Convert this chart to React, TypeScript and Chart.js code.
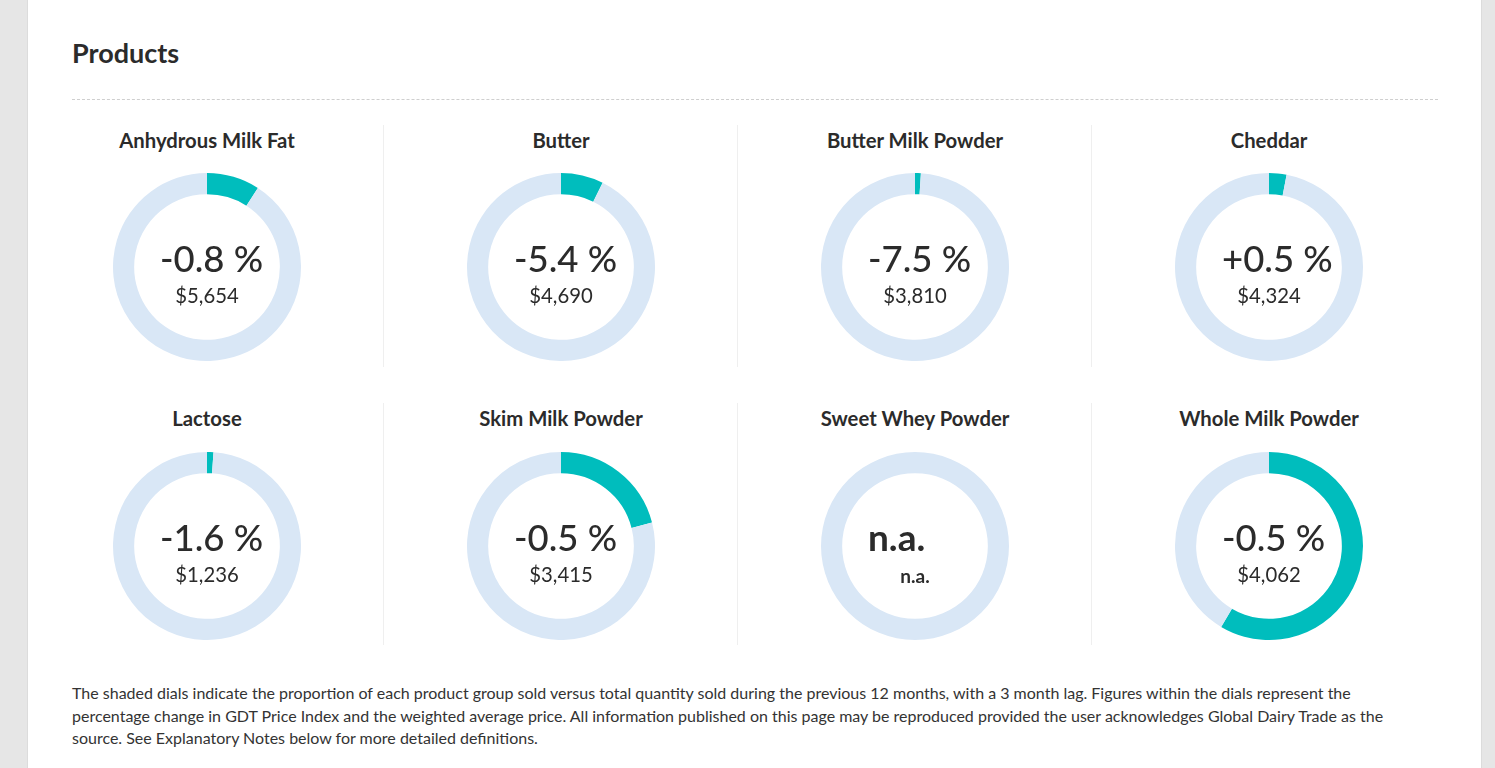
import React, { useEffect, useRef } from 'react';
import { Chart, registerables } from 'chart.js';

Chart.register(...registerables);

const products = [
  'Anhydrous Milk Fat',
  'Butter',
  'Butter Milk Powder',
  'Cheddar',
  'Lactose',
  'Skim Milk Powder',
  'Sweet Whey Powder',
  'Whole Milk Powder',
];
// share (%) of total quantity sold, read from the dials
const shares = [9.1, 7.3, 1.0, 3.0, 1.1, 21.0, 0, 58.5];
const changes = ['-0.8 %', '-5.4 %', '-7.5 %', '+0.5 %', '-1.6 %', '-0.5 %', 'n.a.', '-0.5 %'];
const prices = ['$5,654', '$4,690', '$3,810', '$4,324', '$1,236', '$3,415', 'n.a.', '$4,062'];

const TEAL = '#00bdbd';
const LIGHT = '#d9e7f6';
const TEXT = '#2b2b2b';
const FONT = 'Lato, "Open Sans", sans-serif';

const DIAL = 188;
const COL_W = 354;
const COL_X0 = 30;
const ROW_TOPS = [125, 403];

function Dial({ share, left, top }: { share: number; left: number; top: number }) {
  const ref = useRef<HTMLCanvasElement | null>(null);
  useEffect(() => {
    if (!ref.current) return;
    const chart = new Chart(ref.current, {
      type: 'doughnut',
      data: {
        labels: ['Share', 'Rest'],
        datasets: [
          {
            data: [share, 100 - share],
            backgroundColor: [TEAL, LIGHT],
            borderWidth: 0,
          },
        ],
      },
      options: {
        responsive: false,
        animation: false,
        cutout: '77.5%',
        events: [],
        layout: { padding: 0 },
        plugins: { legend: { display: false }, tooltip: { enabled: false } },
      },
    });
    return () => chart.destroy();
  }, [share]);
  return (
    <canvas
      ref={ref}
      width={DIAL}
      height={DIAL}
      style={{ position: 'absolute', left, top, width: DIAL, height: DIAL }}
    />
  );
}

function Cell({ i }: { i: number }) {
  const col = i % 4;
  const row = Math.floor(i / 4);
  const left = COL_X0 + col * COL_W;
  const top = ROW_TOPS[row];
  const cx = COL_W / 2;
  const dialTop = row === 0 ? 48 : 49;
  const cy = dialTop + DIAL / 2;
  const na = changes[i] === 'n.a.';
  return (
    <div
      style={{
        position: 'absolute',
        left,
        top,
        width: COL_W,
        height: 242,
        borderRight: col < 3 ? '1px solid #efefef' : 'none',
        boxSizing: 'border-box',
      }}
    >
      <div
        style={{
          position: 'absolute',
          left: 0,
          width: COL_W,
          top: 5,
          textAlign: 'center',
          fontSize: 20.3,
          lineHeight: '20px',
          fontWeight: 700,
          color: TEXT,
          whiteSpace: 'nowrap',
        }}
      >
        {products[i]}
      </div>
      <Dial share={shares[i]} left={cx - DIAL / 2} top={dialTop} />
      <div
        style={{
          position: 'absolute',
          left: cx - 47,
          top: na ? cy - 28 : cy - 27,
          fontSize: na ? 37 : 36.5,
          lineHeight: na ? '37px' : '36px',
          fontWeight: na ? 700 : 500,
          color: TEXT,
          whiteSpace: 'nowrap',
        }}
      >
        {changes[i]}
      </div>
      <div
        style={{
          position: 'absolute',
          left: 0,
          width: COL_W,
          top: na ? cy + 20 : cy + 18,
          textAlign: 'center',
          fontSize: na ? 19 : 20.3,
          lineHeight: '20px',
          fontWeight: na ? 700 : 400,
          color: TEXT,
          whiteSpace: 'nowrap',
        }}
      >
        {prices[i]}
      </div>
    </div>
  );
}

export default function App() {
  return (
    <div
      style={{
        position: 'fixed',
        left: 0,
        top: 0,
        width: 1495,
        height: 768,
        background: '#e6e6e6',
        fontFamily: FONT,
        color: TEXT,
        overflow: 'hidden',
      }}
    >
      <div
        style={{
          position: 'absolute',
          left: 27,
          top: 0,
          width: 1455,
          height: 768,
          background: '#fff',
          borderLeft: '1px solid #dcdcdc',
          borderRight: '1px solid #dcdcdc',
          boxSizing: 'border-box',
        }}
      />
      <div
        style={{
          position: 'absolute',
          left: 72,
          top: 39,
          fontSize: 27,
          lineHeight: '27px',
          fontWeight: 700,
          color: TEXT,
        }}
      >
        Products
      </div>
      <div
        style={{
          position: 'absolute',
          left: 72,
          top: 99,
          width: 1366,
          height: 0,
          borderTop: '1px dashed #cfcfcf',
        }}
      />
      {products.map((_, i) => (
        <Cell key={i} i={i} />
      ))}
      <div
        style={{
          position: 'absolute',
          left: 72,
          top: 682,
          width: 1340,
          fontSize: 16,
          lineHeight: '22.5px',
          color: '#333',
        }}
      >
        The shaded dials indicate the proportion of each product group sold versus total quantity sold during the
        previous 12 months, with a 3 month lag. Figures within the dials represent the percentage change in GDT Price
        Index and the weighted average price. All information published on this page may be reproduced provided the user
        acknowledges Global Dairy Trade as the source. See Explanatory Notes below for more detailed definitions.
      </div>
    </div>
  );
}
